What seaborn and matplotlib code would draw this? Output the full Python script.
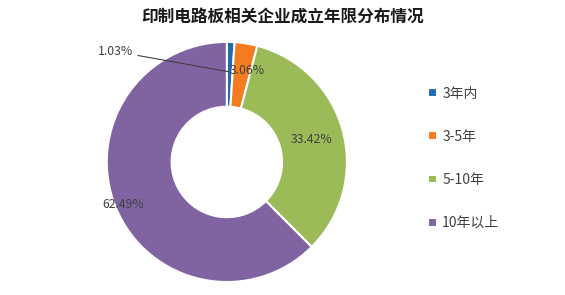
import numpy as np
import matplotlib
matplotlib.use("Agg")
import matplotlib.pyplot as plt
import seaborn as sns

categories = ["3年内", "3-5年", "5-10年", "10年以上"]
values = [1.03, 3.06, 33.42, 62.49]
labels = ["1.03%", "3.06%", "33.42%", "62.49%"]
colors = ["#1F6CB0", "#F57B20", "#9BBB59", "#8064A2"]
title = "印制电路板相关企业成立年限分布情况"

sns.set_theme(style="white")
plt.rcParams['font.family'] = ['Noto Sans CJK SC', 'DejaVu Sans']

fig = plt.figure(figsize=(5.65, 2.95), dpi=100)
ax = fig.add_axes([0.189, 0.044, 0.425, 0.814])

wedges, _ = ax.pie(values, colors=colors, startangle=90, counterclock=False,
                   wedgeprops=dict(width=0.54, edgecolor="white", linewidth=1.5))
ax.set_xlim(-1, 1)
ax.set_ylim(-1, 1)
ax.set_aspect("equal")

# label radii per slice
radii = [0.75, 0.77, 0.73, 0.93]
cum = np.cumsum([0] + values)
total = sum(values)
for i, (lab, r) in enumerate(zip(labels, radii)):
    mid = 90 - 360 * (cum[i] + cum[i + 1]) / 2 / total
    a = np.deg2rad(mid)
    x, y = r * np.cos(a), r * np.sin(a)
    if i == 0:
        ax.annotate(lab, xy=(x, y), xytext=(-0.78, 0.92), ha="right", va="center",
                    fontsize=8.8, color="#404040", annotation_clip=False,
                    arrowprops=dict(arrowstyle="-", color="#404040", lw=0.8,
                                    shrinkA=1, shrinkB=0))
    elif i == 1:
        ax.text(x + 0.05, y, lab, ha="center", va="center", fontsize=8.8, color="#404040")
    else:
        ax.text(x, y, lab, ha="center", va="center", fontsize=8.8, color="#404040")

fig.text(0.5, 0.945, title, ha="center", va="center", fontsize=12, fontweight="bold", color="#1a1a1a")

leg = fig.legend(wedges, categories, loc="upper left", bbox_to_anchor=(0.736, 0.749),
                 frameon=False, fontsize=10, handlelength=0.6, handleheight=0.6,
                 handletextpad=0.4, labelspacing=2.1, labelcolor="#404040")

fig.savefig("out.png", dpi=100, facecolor="white")
